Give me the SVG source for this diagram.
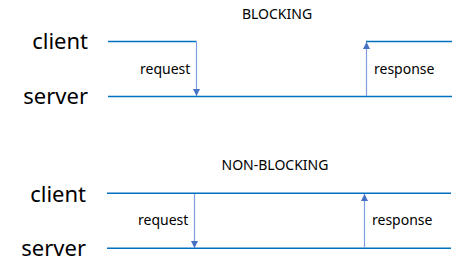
<svg xmlns="http://www.w3.org/2000/svg" width="458" height="277" viewBox="0 0 458 277">
<style>
.lane{stroke:#0070C0;stroke-width:1.5;fill:none}
.msg{stroke:#7F9FDC;stroke-width:1.2;fill:none}
.big{font-family:"Noto Sans","Liberation Sans",sans-serif;font-size:22px;fill:#000;text-anchor:end}
.small{font-family:"Noto Sans","Liberation Sans",sans-serif;font-size:14px;fill:#000}
.title{font-family:"Noto Sans","Liberation Sans",sans-serif;font-size:14px;fill:#000;text-anchor:middle}
</style>
<defs>
<marker id="ah" viewBox="0 0 10 10" refX="10" refY="5" markerWidth="7" markerHeight="7" markerUnits="userSpaceOnUse" orient="auto">
<path d="M0,0 L10,5 L0,10 z" fill="#4472C4"/>
</marker>
</defs>
<g id="blocking">
<text class="title" x="277" y="19">BLOCKING</text>
<g id="client1"><text class="big" x="88" y="49">client</text></g>
<g id="server1"><text class="big" x="88" y="104">server</text></g>
</g>
<g id="nonblocking">
<text class="title" x="275" y="170">NON-BLOCKING</text>
<g id="client2"><text class="big" x="86" y="202">client</text></g>
<g id="server2"><text class="big" x="86" y="256">server</text></g>
</g>
<g id="connectors">
<line class="lane" x1="108" y1="41.5" x2="196.5" y2="41.5"/>
<line class="lane" x1="366" y1="41.5" x2="452" y2="41.5"/>
<line class="lane" x1="108" y1="96.5" x2="452" y2="96.5"/>
<line class="msg" x1="196.5" y1="42" x2="196.5" y2="96" marker-end="url(#ah)"/>
<line class="msg" x1="366.5" y1="96" x2="366.5" y2="42" marker-end="url(#ah)"/>
<line class="lane" x1="107" y1="193.3" x2="451" y2="193.3"/>
<line class="lane" x1="107" y1="248.3" x2="451" y2="248.3"/>
<line class="msg" x1="194.5" y1="194" x2="194.5" y2="248" marker-end="url(#ah)"/>
<line class="msg" x1="364.5" y1="248" x2="364.5" y2="194" marker-end="url(#ah)"/>
</g>
<g id="labels">
<text class="small" x="140" y="74">request</text>
<text class="small" x="374" y="74">response</text>
<text class="small" x="138" y="225">request</text>
<text class="small" x="372" y="225">response</text>
</g>
</svg>
